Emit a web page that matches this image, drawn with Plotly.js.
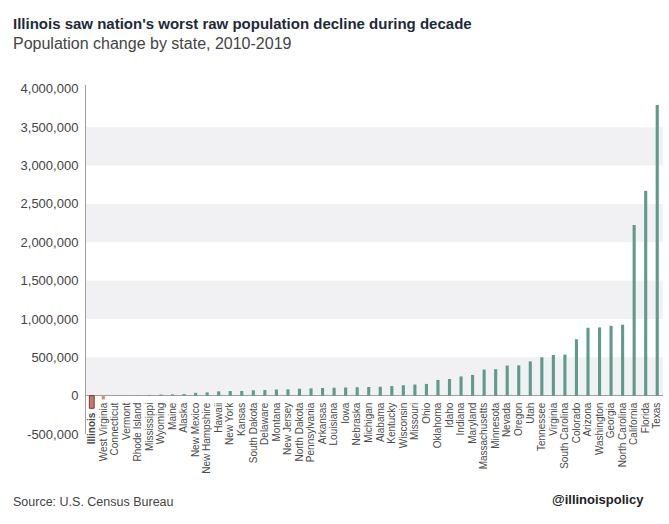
<!DOCTYPE html>
<html>
<head>
<meta charset="utf-8">
<script src="https://cdn.plot.ly/plotly-3.0.1.min.js"></script>
<style>html,body{margin:0;padding:0;background:#fff;}#chart{width:669px;height:524px;}</style>
</head>
<body>
<div id="chart"></div>
<script>
const states = ["Illinois","West Virginia","Connecticut","Vermont","Rhode Island","Mississippi","Wyoming","Maine","Alaska","New Mexico","New Hampshire","Hawaii","New York","Kansas","South Dakota","Delaware","Montana","New Jersey","North Dakota","Pennsylvania","Arkansas","Louisiana","Iowa","Nebraska","Michigan","Alabama","Kentucky","Wisconsin","Missouri","Ohio","Oklahoma","Idaho","Indiana","Maryland","Massachusetts","Minnesota","Nevada","Oregon","Utah","Tennessee","Virginia","South Carolina","Colorado","Arizona","Washington","Georgia","North Carolina","California","Florida","Texas"];
const popChange = [-165000,-50000,-2000,2000,6000,9000,15000,17000,21000,37000,43000,56000,60000,62000,70000,74000,80000,82000,90000,95000,100000,103000,107000,110000,113000,116000,125000,136000,145000,153000,205000,218000,250000,270000,340000,345000,392000,395000,447000,500000,530000,535000,735000,885000,890000,910000,925000,2225000,2670000,3790000];
const yTicks = [-500000,0,500000,1000000,1500000,2000000,2500000,3000000,3500000,4000000];
const yTickLabels = ["-500,000","0","500,000","1,000,000","1,500,000","2,000,000","2,500,000","3,000,000","3,500,000","4,000,000"];

const yMin = -500000, yMax = 4050000;
const teal = "#5e9b8d";
const colors = states.map(s => s === "Illinois" ? "#c47a6c" : (s === "West Virginia" ? "#e28a6c" : teal));
const lineColors = states.map(s => s === "Illinois" ? "#7a3a32" : "rgba(0,0,0,0)");
const lineWidths = states.map(s => s === "Illinois" ? 1 : 0);
const widths = states.map(s => s === "Illinois" ? 0.42 : 0.27);
const tickText = states.map(s => s === "Illinois"
  ? "<b>" + s + "</b><span style='color:rgba(0,0,0,0)'>---</span>" : s);

// alternating grey bands
const shapes = [];
for (let i = 0; i < yTicks.length - 1; i++) {
  const lo = yTicks[i], hi = yTicks[i + 1];
  if (lo >= 0 && (lo / 500000) % 2 === 0) {
    shapes.push({type: "rect", xref: "paper", yref: "y", x0: 0, x1: 1, y0: lo, y1: hi,
      fillcolor: "#f1f1f3", line: {width: 0}, layer: "below"});
  }
}

const trace = {
  type: "bar",
  x: states,
  y: popChange,
  width: widths,
  marker: {color: colors, line: {color: lineColors, width: lineWidths}},
  hoverinfo: "x+y"
};

const font = "'Liberation Sans', Arial, sans-serif";
const layout = {
  width: 669, height: 524,
  margin: {l: 86, r: 6, t: 85, b: 90},
  paper_bgcolor: "#ffffff",
  plot_bgcolor: "rgba(0,0,0,0)",
  showlegend: false,
  font: {family: font, color: "#444"},
  shapes: shapes,
  xaxis: {
    type: "category",
    tickmode: "array", tickvals: states, ticktext: tickText,
    tickangle: -90,
    tickfont: {size: 10, color: "#4a4a4a", family: font},
    showgrid: false, showline: false, ticks: "",
    anchor: "free", position: (0 - yMin) / (yMax - yMin),
    ticklabelstandoff: 4,
    range: [-0.5, 49.5],
    fixedrange: true
  },
  yaxis: {
    range: [yMin, yMax],
    tickmode: "array", tickvals: yTicks, ticktext: yTickLabels,
    tickfont: {size: 13, color: "#444", family: font},
    showgrid: false,
    zeroline: true, zerolinecolor: "#a0a0a0", zerolinewidth: 1,
    showline: true, linecolor: "#a0a0a0", linewidth: 1,
    ticks: "", ticklabelstandoff: 4,
    fixedrange: true
  },
  annotations: [
    {xref: "paper", yref: "paper", x: -0.13, y: 1.1748, xanchor: "left", yanchor: "middle", showarrow: false,
     text: "<b>Illinois saw nation's worst raw population decline during decade</b>",
     font: {size: 15, color: "#1e2a38", family: font}},
    {xref: "paper", yref: "paper", x: -0.13, y: 1.1203, xanchor: "left", yanchor: "middle", showarrow: false,
     text: "Population change by state, 2010-2019",
     font: {size: 16, color: "#444", family: font}},
    {xref: "paper", yref: "paper", x: -0.13, y: -0.1948, xanchor: "left", yanchor: "middle", showarrow: false,
     text: "Source: U.S. Census Bureau",
     font: {size: 12.5, color: "#444", family: font}},
    {xref: "paper", yref: "paper", x: 0.9705, y: -0.189, xanchor: "right", yanchor: "middle", showarrow: false,
     text: "<b>@illinoispolicy</b>",
     font: {size: 13, color: "#222", family: font}}
  ]
};

Plotly.newPlot("chart", [trace], layout, {displayModeBar: false, staticPlot: true});
</script>
</body>
</html>
